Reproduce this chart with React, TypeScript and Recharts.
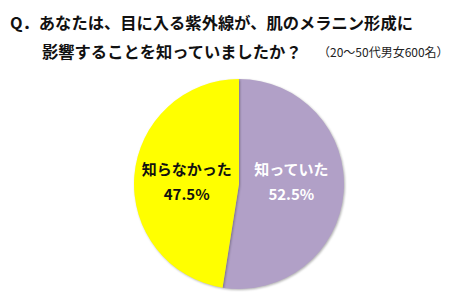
import React from 'react';
import { PieChart, Pie, Cell } from 'recharts';

const categories = ['知っていた', '知らなかった'];
const values = [52.5, 47.5];
const colors = ['#B1A0C7', '#FFFF00'];
const labelColors = ['#FFFFFF', '#111111'];

const titleLine1 = 'Q．あなたは、目に入る紫外線が、肌のメラニン形成に';
const titleLine2 = '影響することを知っていましたか？';
const titleNote = '（20〜50代男女600名）';

const data = categories.map((name, i) => ({ name, value: values[i] }));

const FONT = '"Noto Sans CJK JP", "Noto Sans", sans-serif';
const RAD = Math.PI / 180;

const renderLabel = (props: any) => {
  const { cx, cy, midAngle, outerRadius, index, value } = props;
  const x = cx + outerRadius * 0.5 * Math.cos(-midAngle * RAD);
  const y = cy;
  return (
    <g>
      <text x={x} y={y - 16} textAnchor="middle" dominantBaseline="central" fill={labelColors[index]} fontFamily={FONT} fontWeight={700} fontSize={15}>
        {categories[index]}
      </text>
      <text x={x} y={y + 9} textAnchor="middle" dominantBaseline="central" fill={labelColors[index]} fontFamily={FONT} fontWeight={700} fontSize={15}>
        {value.toFixed(1)}%
      </text>
    </g>
  );
};

export default function App() {
  return (
    <div style={{ position: 'absolute', left: 0, top: 0, width: 464, height: 300, background: '#fff' }}>
      <style>{`.recharts-pie-sector path { filter: drop-shadow(1px 1.5px 1px rgba(0,0,0,0.3)); }`}</style>
      <svg width={464} height={70} style={{ position: 'absolute', left: 0, top: 0 }}>
        <text x={10} y={22} dominantBaseline="central" fontFamily={FONT} fontWeight={700} fontSize={16.3} fill="#111">
          {titleLine1}
        </text>
        <text x={42} y={51} dominantBaseline="central" fontFamily={FONT} fontWeight={700} fontSize={16.3} fill="#111">
          {titleLine2}
        </text>
        <text x={318} y={51} dominantBaseline="central" fontFamily={FONT} fontSize={12} fill="#222">
          {titleNote}
        </text>
      </svg>
      <div style={{ position: 'absolute', left: 0, top: 0 }}>
        <PieChart width={464} height={300}>
          <Pie
            data={data}
            dataKey="value"
            nameKey="name"
            cx={234}
            cy={179}
            outerRadius={105}
            startAngle={90}
            endAngle={-270}
            stroke="none"
            isAnimationActive={false}
            labelLine={false}
            label={renderLabel}
          >
            {data.map((d, i) => (
              <Cell key={d.name} fill={colors[i]} />
            ))}
          </Pie>
        </PieChart>
      </div>
    </div>
  );
}
